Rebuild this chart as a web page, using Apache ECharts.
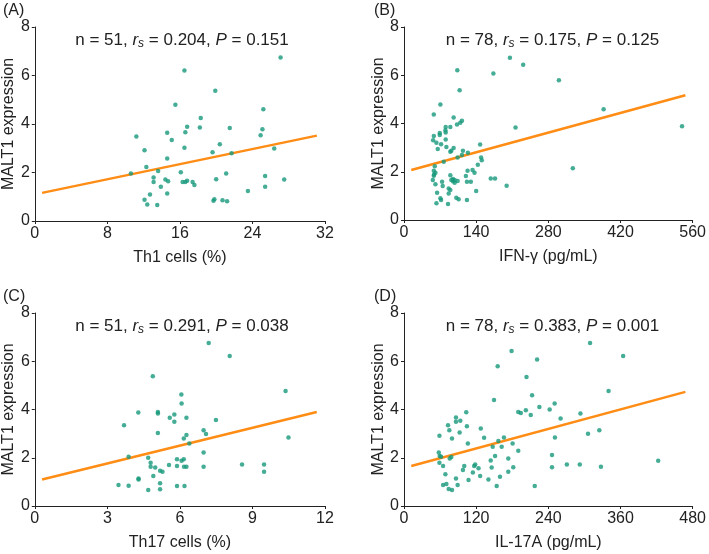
<!DOCTYPE html>
<html><head><meta charset="utf-8">
<script src="https://cdn.jsdelivr.net/npm/echarts@6/dist/echarts.min.js"></script>
<style>html,body{margin:0;padding:0;background:#fff}#c{width:709px;height:554px}</style>
</head><body><div id="c"></div>
<script>
// Panel A: Th1 cells (%) vs MALT1
const aX = [11.2,12.1,10.6,12.3,12.1,12.4,12.7,13.1,13.1,13.5,13.6,13.9,14.4,14.7,14.6,14.6,14.6,15.1,15.5,16.1,16.3,16.5,16.5,16.6,16.8,16.6,16.8,17.4,17.6,18.2,18.3,19.6,19.9,19.7,19.8,20.0,20.4,20.7,21.1,21.2,21.5,21.7,23.5,24.9,25.1,25.2,25.4,25.4,26.4,27.1,27.5];
const aY = [3.48,2.92,1.96,2.23,0.88,0.68,1.09,1.79,1.61,0.66,2.06,1.41,1.71,1.64,2.58,3.64,1.13,3.34,4.79,2.01,1.61,6.21,3.02,3.66,3.89,1.61,1.66,1.61,1.48,3.86,4.25,2.83,5.37,0.83,0.90,1.72,3.16,0.86,1.96,0.81,3.83,2.79,1.24,3.54,3.78,4.61,1.86,1.41,2.99,6.74,1.71];
const aFitX = [0.8, 31.1];
const aFitY = [1.16, 3.52];
// Panel B: IFN-γ (pg/mL) vs MALT1
const bX = [57.8,70.6,57.8,56.5,62.9,69.4,69.4,71.9,65.5,80.3,80.9,80.9,80.9,82.2,77.1,89.9,96.3,96.3,89.9,91.8,102.8,109.2,112.4,103.4,107.9,104,112.4,114.3,123.9,55.9,57.8,57.8,59.7,61.0,61.0,64.2,62.9,71.9,70.6,73.9,75.1,85.4,86.7,86.7,89.9,89.9,91.8,95.0,98.3,98.3,101.5,106,120.1,122.1,123.3,122.1,129.7,133.0,136.8,140,143.2,147.7,149.6,150.9,168.3,176.6,173.4,199.1,205.5,231.2,216.4,300.5,327.5,387.3,539.4,95,104,58.4];
const bY = [4.37,4.79,3.48,3.31,3.2,3.61,3.52,3.14,2.94,3.72,3.86,3.63,3.34,3.03,2.41,3.86,4.25,2.98,2.83,2.87,3.96,4.03,4.11,6.21,5.38,2.59,2.69,2.87,2.79,1.66,2.04,1.83,2.23,1.96,1.48,1.13,0.69,0.83,0.90,1.59,1.41,0.66,1.31,1.10,1.24,1.86,1.66,1.61,1.66,1.54,0.92,0.86,1.82,1.59,2.04,0.83,1.59,2.07,1.96,1.2,2.29,3.13,2.59,2.48,1.72,1.72,6.07,1.42,6.73,6.44,3.83,5.79,2.14,4.59,3.89,1.70,1.62,1.89];
const bFitX = [14.1, 545.9];
const bFitY = [2.07, 5.17];
// Panel C: Th17 cells (%) vs MALT1
const cX = [3.46,3.69,3.88,3.88,4.28,4.29,4.29,4.69,4.69,4.79,4.79,4.88,4.9,4.98,5.09,5.09,5.09,5.18,5.18,5.18,5.28,5.55,5.58,5.77,5.77,5.88,5.88,5.88,6.06,6.07,6.07,6.16,6.16,6.17,6.19,6.27,6.27,6.27,6.39,6.98,6.98,6.98,7.08,7.19,7.49,8.06,8.57,9.48,9.48,10.37,10.49];
const cY = [0.87,3.35,2.04,0.84,3.88,1.14,1.10,2.0,0.66,1.79,1.63,5.38,1.24,1.6,3.9,3.83,3.03,1.46,0.94,0.69,1.42,1.7,3.66,3.79,3.49,1.94,1.66,0.83,4.62,4.25,1.88,1.94,2.8,1.63,0.83,3.66,2.94,1.63,2.59,3.14,2.22,1.63,2.98,6.76,3.56,6.22,1.72,1.72,1.42,4.77,2.84];
const cFitX = [0.3, 11.66];
const cFitY = [1.1, 3.9];
// Panel D: IL-17A (pg/mL) vs MALT1
const dX = [58.9,57.8,59.4,61.7,58.9,65,68.8,65,70.5,74.3,79.8,73.2,75.4,76,78.7,79.8,86.4,86.4,86.4,89.2,92.5,93.6,103.5,104.6,106.2,98,100.2,107.3,114.5,116.7,118.4,123.9,126.6,127.7,133.2,140.4,144.2,145.8,147.5,149.7,151.4,154.1,155.8,156.9,159.6,162.4,166.2,173.4,173.4,178.9,180.6,181.7,190,190,194.3,202.6,203.7,210.8,213,217.4,221.3,225.1,242.2,246.1,246.1,250.5,251,260.4,270.8,293.4,292.3,306,309.4,324.8,327.5,340.2,364.4,422.7];
const dY = [2.91,2.22,2.07,2.04,1.79,1.66,1.32,0.87,0.91,0.7,0.66,3.35,3.14,1.97,2.03,2.8,3.67,3.49,1.14,0.87,3.05,3.53,3.89,3.31,2.59,1.49,1.66,1.08,1.39,1.66,1.72,1.56,1.24,3.21,2.83,1.1,1.89,1.6,2.46,4.39,2.07,0.83,5.79,2.69,1.21,2.46,2.84,1.42,1.97,6.43,2.59,1.61,2.29,3.9,3.86,3.97,5.35,3.77,4.59,0.83,6.07,4.1,4.0,2.11,1.61,4.25,2.84,3.63,1.72,3.83,1.72,3.0,6.76,3.14,1.63,4.77,6.22,1.88];
const dFitX = [12.1, 467.9];
const dFitY = [1.66, 4.73];

const panels = [
  {letter:'(A)', xName:'Th1 cells (%)', xMax:32, xInt:8, xs:aX, ys:aY, fx:aFitX, fy:aFitY, n:'51', r:'0.204', p:'0.151'},
  {letter:'(B)', xName:'IFN-γ (pg/mL)', xMax:560, xInt:140, xs:bX, ys:bY, fx:bFitX, fy:bFitY, n:'78', r:'0.175', p:'0.125'},
  {letter:'(C)', xName:'Th17 cells (%)', xMax:12, xInt:3, xs:cX, ys:cY, fx:cFitX, fy:cFitY, n:'51', r:'0.291', p:'0.038'},
  {letter:'(D)', xName:'IL-17A (pg/mL)', xMax:480, xInt:120, xs:dX, ys:dY, fx:dFitX, fy:dFitY, n:'78', r:'0.383', p:'0.001'}
];
const boxes = [
  {left:33, top:27, width:292, height:194},
  {left:404, top:27, width:291, height:193},
  {left:33, top:313, width:292, height:193},
  {left:404, top:313, width:291, height:193}
];
const FONT = 'Liberation Sans, Arial, sans-serif';
const axisLine = {show:true, lineStyle:{color:'#222', width:1}};
const grid=[], xAxis=[], yAxis=[], series=[], graphic=[];
panels.forEach((p,i)=>{
  const b = boxes[i];
  grid.push(Object.assign({containLabel:false}, b));
  xAxis.push({type:'value', gridIndex:i, min:0, max:p.xMax, interval:p.xInt,
    name:p.xName, nameLocation:'middle', nameGap:29,
    nameTextStyle:{fontSize:16, color:'#222', fontFamily:FONT},
    axisLine:axisLine, axisTick:{show:true, length:3, lineStyle:{color:'#222'}},
    axisLabel:{fontSize:16, color:'#222', margin:5, fontFamily:FONT},
    splitLine:{show:false}});
  yAxis.push({type:'value', gridIndex:i, min:0, max:8, interval:2,
    name:'MALT1 expression', nameLocation:'middle', nameGap:14,
    nameTextStyle:{fontSize:16, color:'#222', fontFamily:FONT},
    axisLine:axisLine, axisTick:{show:true, length:3, lineStyle:{color:'#222'}},
    axisLabel:{fontSize:16, color:'#222', margin:5, fontFamily:FONT},
    splitLine:{show:false}});
  series.push({type:'line', xAxisIndex:i, yAxisIndex:i, data:p.fx.map((x,k)=>[x,p.fy[k]]),
    symbol:'none', lineStyle:{color:'#ff8c14', width:2.5}, silent:true, z:2});
  series.push({type:'scatter', xAxisIndex:i, yAxisIndex:i, data:p.xs.map((x,k)=>[x,p.ys[k]]),
    symbolSize:4.5, itemStyle:{color:'#17997a'}, z:3});
  graphic.push({type:'text', left:b.left-30, top:b.top-24,
    style:{text:p.letter, font:'16px '+FONT, fill:'#222'}});
  graphic.push({type:'text', x:b.left+b.width/2+3, y:b.top+3,
    style:{text:'{a|n = '+p.n+', }{i|r}{s|s}{a| = '+p.r+', }{i|P}{a| = '+p.p+'}',
      align:'center', verticalAlign:'top',
      rich:{
        a:{fontSize:17, fontFamily:FONT, fill:'#222', lineHeight:20, verticalAlign:'middle'},
        i:{fontSize:17, fontFamily:FONT, fontStyle:'italic', fill:'#222', lineHeight:20, verticalAlign:'middle'},
        s:{fontSize:12, fontFamily:FONT, fontStyle:'italic', fill:'#222', lineHeight:12, verticalAlign:'bottom'}
      }}});
});
const chart = echarts.init(document.getElementById('c'), null, {renderer:'canvas'});
chart.setOption({animation:false, backgroundColor:'#fff', grid, xAxis, yAxis, series, graphic});
</script></body></html>
